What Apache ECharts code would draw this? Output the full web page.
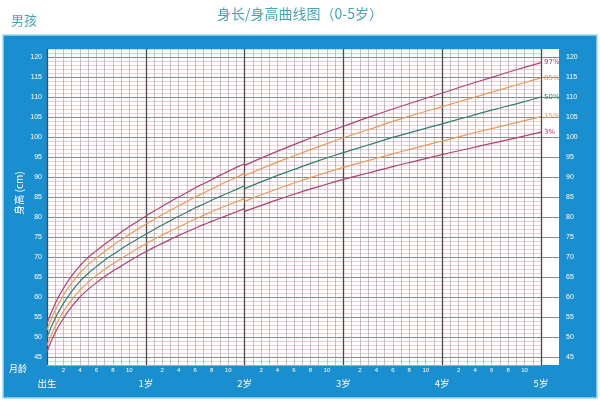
<!DOCTYPE html>
<html><head><meta charset="utf-8">
<script src="https://cdn.jsdelivr.net/npm/echarts@6/dist/echarts.min.js"></script>
<style>html,body{margin:0;padding:0;background:#fff}#c{width:600px;height:403px}</style>
</head><body><div id="c"></div>
<script>
// Length-for-age (0-24 months)
const lenMonths = [0,1,2,3,4,5,6,7,8,9,10,11,12,13,14,15,16,17,18,19,20,21,22,23,24];
const lenP3  = [46.3,51.1,54.7,57.6,60.0,61.9,63.6,65.1,66.5,67.7,69.0,70.2,71.3,72.4,73.4,74.4,75.4,76.3,77.2,78.1,78.9,79.7,80.5,81.3,82.1];
const lenP15 = [47.9,52.7,56.4,59.3,61.7,63.7,65.4,66.9,68.3,69.6,70.9,72.1,73.3,74.4,75.5,76.5,77.5,78.5,79.5,80.4,81.3,82.2,83.0,83.8,84.6];
const lenP50 = [49.9,54.7,58.4,61.4,63.9,65.9,67.6,69.2,70.6,72.0,73.3,74.5,75.7,76.9,78.0,79.1,80.2,81.2,82.3,83.2,84.2,85.1,86.0,86.9,87.8];
const lenP85 = [51.8,56.7,60.5,63.5,66.0,68.1,69.8,71.4,72.9,74.3,75.6,77.0,78.2,79.4,80.6,81.7,82.8,83.9,85.0,86.0,87.0,88.0,89.0,89.9,90.9];
const lenP97 = [53.4,58.4,62.2,65.3,67.8,69.9,71.6,73.2,74.7,76.2,77.6,78.9,80.2,81.5,82.7,83.9,85.0,86.1,87.3,88.3,89.3,90.4,91.4,92.4,93.3];
// Height-for-age (24-60 months)
const htMonths = [24,27,30,33,36,39,42,45,48,51,54,57,60];
const htP3  = [81.4,83.6,85.7,87.6,89.4,91.0,92.6,94.1,95.6,97.0,98.4,99.8,101.2];
const htP15 = [83.9,86.3,88.5,90.5,92.4,94.1,95.8,97.4,99.0,100.6,102.1,103.6,105.1];
const htP50 = [87.1,89.6,91.9,94.1,96.1,98.0,99.9,101.6,103.3,105.0,106.7,108.3,110.0];
const htP85 = [90.3,92.9,95.3,97.6,99.8,101.8,103.9,105.8,107.6,109.4,111.2,113.0,114.8];
const htP97 = [92.9,95.6,98.1,100.5,102.7,104.9,107.0,109.0,111.0,113.0,114.9,116.8,118.6];

const percentileNames = ['97%','85%','50%','15%','3%'];
const yearLabels = ['出生','1岁','2岁','3岁','4岁','5岁'];

const colPurple = '#b2406f', colOrange = '#e99a5e', colGreen = '#2f7f6c';
const curveDefs = [
  {name: percentileNames[0], len: lenP97, ht: htP97, color: colPurple, lc: '#c2306a'},
  {name: percentileNames[1], len: lenP85, ht: htP85, color: colOrange, lc: '#e8914e'},
  {name: percentileNames[2], len: lenP50, ht: htP50, color: colGreen, lc: '#2b8a55'},
  {name: percentileNames[3], len: lenP15, ht: htP15, color: colOrange, lc: '#e8914e'},
  {name: percentileNames[4], len: lenP3,  ht: htP3,  color: colPurple, lc: '#c2306a'}
];

const series = [];
curveDefs.forEach(d => {
  series.push({
    type: 'line', xAxisIndex: 1, yAxisIndex: 1, smooth: true, symbol: 'none',
    lineStyle: {color: d.color, width: 1.2}, silent: true,
    data: lenMonths.map((m, i) => [m, d.len[i]])
  });
  series.push({
    type: 'line', xAxisIndex: 1, yAxisIndex: 1, smooth: true, symbol: 'none',
    lineStyle: {color: d.color, width: 1.2}, silent: true,
    data: htMonths.map((m, i) => [m, d.ht[i]]),
    endLabel: {show: true, formatter: d.name, color: d.lc, fontSize: 7, distance: 3,
      fontFamily: 'DejaVu Sans'}
  });
});

const pink = '#ecb9c0';
const labelFont = 'Liberation Sans';
const chart = echarts.init(document.getElementById('c'), null, {renderer: 'canvas'});
chart.setOption({
  animation: false,
  backgroundColor: '#fff',
  title: {
    text: '身长/身高曲线图（0-5岁）', left: 'center', top: 2,
    textStyle: {color: '#4aa3b6', fontSize: 14, fontWeight: 'normal', fontFamily: 'Noto Sans CJK SC'}
  },
  graphic: [
    {type: 'rect', z: -10, shape: {x: 3, y: 35, width: 594, height: 363},
     style: {fill: '#1b8ed0', stroke: '#9adcef', lineWidth: 1.5}},
    {type: 'text', left: 11, top: 14,
     style: {text: '男孩', fill: '#4aa3b6', font: '13px "Noto Sans CJK SC"'}},
    {type: 'text', x: 18, y: 369, z: 10,
     style: {text: '月龄', fill: '#fff', font: '9px "Noto Sans CJK SC"', align: 'center', verticalAlign: 'middle', textAlign: 'center', textVerticalAlign: 'middle'}},
    {type: 'text', x: 19, y: 193, rotation: Math.PI / 2, z: 10,
     style: {text: '身高 (cm)', fill: '#fff', font: '10px "Noto Sans CJK SC"', align: 'center', verticalAlign: 'middle', textAlign: 'center', textVerticalAlign: 'middle'}}
  ],
  grid: [
    {left: 47, right: 41, top: 49, bottom: 38, show: true, backgroundColor: '#fff', borderWidth: 0},
    {left: 47, width: 494, top: 49, bottom: 38, show: false}
  ],
  xAxis: [
    {gridIndex: 0, type: 'value', min: 0, max: 1, show: false},
    {gridIndex: 1, type: 'value', min: 0, max: 60, interval: 1, position: 'bottom',
     axisLine: {show: false, onZero: false}, axisTick: {show: false},
     splitLine: {show: true, lineStyle: {color: '#a7a7a7', width: 0.7}},
     axisLabel: {color: '#fff', fontSize: 6, margin: 2, fontFamily: labelFont,
       formatter: v => (v % 12 !== 0 && v % 2 === 0) ? String(v % 12) : ''}},
    {gridIndex: 1, type: 'value', min: 0, max: 60, interval: 12, position: 'bottom',
     axisLine: {show: false, onZero: false}, axisTick: {show: false},
     splitLine: {show: true, lineStyle: {color: '#4a4a4a', width: 1.3}},
     axisLabel: {color: '#fff', fontSize: 9.5, margin: 14, fontFamily: 'Noto Sans CJK SC',
       formatter: v => yearLabels[Math.round(v / 12)]}}
  ],
  yAxis: [
    {gridIndex: 0, type: 'value', min: 43, max: 122, interval: 1, position: 'left',
     axisLine: {show: false}, axisTick: {show: false},
     splitLine: {show: true, lineStyle: {color: ['transparent','transparent','#8a8a8a','transparent','transparent'], width: 1}},
     axisLabel: {color: '#fff', fontSize: 7, margin: 5, fontFamily: labelFont,
       formatter: v => v % 5 === 0 ? String(v) : ''}},
    {gridIndex: 1, type: 'value', min: 43, max: 122, interval: 1, position: 'left',
     axisLine: {show: false}, axisTick: {show: false}, axisLabel: {show: false},
     splitLine: {show: true, lineStyle: {color: [pink, pink, 'transparent', pink, pink], width: 0.7}}},
    {gridIndex: 0, type: 'value', min: 43, max: 122, interval: 1, position: 'right',
     axisLine: {show: false}, axisTick: {show: false}, splitLine: {show: false},
     axisLabel: {color: '#fff', fontSize: 7, margin: 7, fontFamily: labelFont,
       formatter: v => v % 5 === 0 ? String(v) : ''}}
  ],
  series: series
});
</script>
</body></html>
